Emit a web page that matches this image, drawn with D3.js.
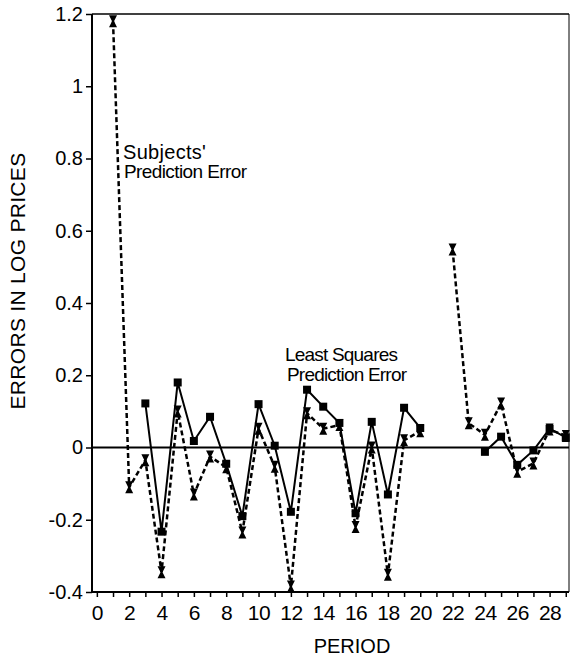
<!DOCTYPE html>
<html>
<head>
<meta charset="utf-8">
<script src="https://cdn.jsdelivr.net/npm/d3@7"></script>
<style>
  body { margin: 0; background: #fff; }
  svg { display: block; font-family: "Liberation Sans", Arial, Helvetica, sans-serif; }
</style>
</head>
<body>
<script>
// period numbers (x)
var periods = [1, 2, 3, 4, 5, 6, 7, 8, 9, 10, 11, 12, 13, 14, 15, 16, 17, 18, 19, 20, 21, 22, 23, 24, 25, 26, 27, 28, 29];

// subjects' prediction error (dashed, hourglass markers); null = no value
var subjectsErr = [1.18, -0.11, -0.035, -0.345, 0.10, -0.13, -0.025, -0.055, -0.235, 0.052,
    -0.053, -0.385, 0.095, 0.052, 0.062, -0.22, 0.0, -0.352, 0.02, 0.045,
    null, 0.548, 0.067, 0.035, 0.122, -0.067, -0.044, 0.05, 0.032];

// least squares prediction error (solid, square markers)
var leastSqErr = [null, null, 0.122, -0.233, 0.18, 0.018, 0.085, -0.045, -0.19, 0.12,
    0.005, -0.178, 0.16, 0.113, 0.068, -0.182, 0.071, -0.13, 0.11, 0.054,
    null, null, null, -0.012, 0.03, -0.048, -0.008, 0.052, 0.028];

var yTicks = [-0.4, -0.2, 0, 0.2, 0.4, 0.6, 0.8, 1, 1.2];
var xLabelTicks = [0, 2, 4, 6, 8, 10, 12, 14, 16, 18, 20, 22, 24, 26, 28];

//plot frame (window.top is reserved, so own names)
var svgWidth = 572, svgHeight = 661;
var plotLeft = 92, plotRight = 569, plotTop = 14, plotBottom = 592;

var svg = d3.select("body").append("svg")
    .attr("width", svgWidth)
    .attr("height", svgHeight);

svg.append("rect").attr("width", svgWidth).attr("height", svgHeight).attr("fill", "#fff");

var x = d3.scaleLinear().domain([-0.3, 29.2]).range([plotLeft, plotRight]);
var y = d3.scaleLinear().domain([-0.4, 1.2]).range([plotBottom, plotTop]);

//y axis
var yAxis = d3.axisLeft(y)
    .tickValues(yTicks)
    .tickSize(6)
    .tickPadding(3)
    .tickFormat(function(d){ return d === 0 ? "0" : String(+d.toFixed(1)); });

var gy = svg.append("g")
    .attr("transform", "translate(" + plotLeft + ",0)")
    .call(yAxis);
gy.select(".domain").remove();
gy.selectAll("line").attr("stroke", "#000").attr("stroke-width", 1.5);
gy.selectAll("text")
    .attr("fill", "#000")
    .style("font-size", "20px");

//x axis, tick at every period, labels on even ones
var xAxis = d3.axisBottom(x)
    .tickValues(d3.range(0, 30))
    .tickSize(5)
    .tickPadding(8)
    .tickFormat(function(d){ return xLabelTicks.indexOf(d) >= 0 ? d : ""; });

var gx = svg.append("g")
    .attr("transform", "translate(0," + plotBottom + ")")
    .call(xAxis);
gx.select(".domain").remove();
gx.selectAll("line").attr("stroke", "#000").attr("stroke-width", 1.5);
gx.selectAll("text")
    .attr("fill", "#000")
    .style("font-size", "21px")
    .style("letter-spacing", "-0.5px");

//frame
svg.append("line").attr("x1", plotLeft).attr("x2", plotLeft).attr("y1", plotTop).attr("y2", plotBottom)
    .attr("stroke", "#000").attr("stroke-width", 2);
svg.append("line").attr("x1", plotLeft).attr("x2", plotRight).attr("y1", plotBottom).attr("y2", plotBottom)
    .attr("stroke", "#000").attr("stroke-width", 2.2);
svg.append("line").attr("x1", plotLeft).attr("x2", plotRight).attr("y1", plotTop).attr("y2", plotTop)
    .attr("stroke", "#000").attr("stroke-width", 1.6);
svg.append("line").attr("x1", plotRight).attr("x2", plotRight).attr("y1", plotTop).attr("y2", plotBottom)
    .attr("stroke", "#000").attr("stroke-width", 1);

//zero line
svg.append("line")
    .attr("x1", plotLeft).attr("x2", plotRight)
    .attr("y1", y(0)).attr("y2", y(0))
    .attr("stroke", "#000").attr("stroke-width", 2);

//axis titles
svg.append("text")
    .attr("transform", "translate(25,281) rotate(-90)")
    .attr("text-anchor", "middle")
    .style("font-size", "21px")
    .style("letter-spacing", "0.3px")
    .text("ERRORS IN LOG PRICES");

svg.append("text")
    .attr("x", 352).attr("y", 653)
    .attr("text-anchor", "middle")
    .style("font-size", "20px")
    .text("PERIOD");

function toPoints(vals){
    return periods.map(function(p, i){ return { p: p, v: vals[i] }; });
}

var line = d3.line()
    .defined(function(d){ return d.v !== null; })
    .x(function(d){ return x(d.p); })
    .y(function(d){ return y(d.v); });

var sPts = toPoints(subjectsErr);
var lPts = toPoints(leastSqErr);

svg.append("path")
    .datum(sPts)
    .attr("d", line)
    .attr("fill", "none")
    .attr("stroke", "#000")
    .attr("stroke-width", 2.5)
    .attr("stroke-dasharray", "5,3");

svg.append("path")
    .datum(lPts)
    .attr("d", line)
    .attr("fill", "none")
    .attr("stroke", "#000")
    .attr("stroke-width", 2);

//hourglass markers
svg.selectAll(".hg")
    .data(sPts.filter(function(d){ return d.v !== null; }))
    .enter().append("path")
    .attr("class", "hg")
    .attr("transform", function(d){ return "translate(" + x(d.p) + "," + y(d.v) + ")"; })
    .attr("d", "M-4,-6L4,-6L1,0L4,6L-4,6L-1,0Z")
    .attr("fill", "#000");

//square markers
svg.selectAll(".sq")
    .data(lPts.filter(function(d){ return d.v !== null; }))
    .enter().append("rect")
    .attr("class", "sq")
    .attr("x", function(d){ return x(d.p) - 4; })
    .attr("y", function(d){ return y(d.v) - 4; })
    .attr("width", 8)
    .attr("height", 8)
    .attr("fill", "#000");

//annotations
var notes = [
    { x: 123, y: 159, t: "Subjects'", ls: "0.3px", fs: "20px" },
    { x: 124, y: 178, t: "Prediction Error", ls: "-0.6px", fs: "19px" },
    { x: 285, y: 361, t: "Least Squares", ls: "-0.8px", fs: "19px" },
    { x: 287, y: 381, t: "Prediction Error", ls: "-0.8px", fs: "19px" }
];
svg.selectAll(".note")
    .data(notes)
    .enter().append("text")
    .attr("class", "note")
    .attr("x", function(d){ return d.x; })
    .attr("y", function(d){ return d.y; })
    .style("font-size", function(d){ return d.fs; })
    .style("letter-spacing", function(d){ return d.ls; })
    .text(function(d){ return d.t; });
</script>
</body>
</html>
